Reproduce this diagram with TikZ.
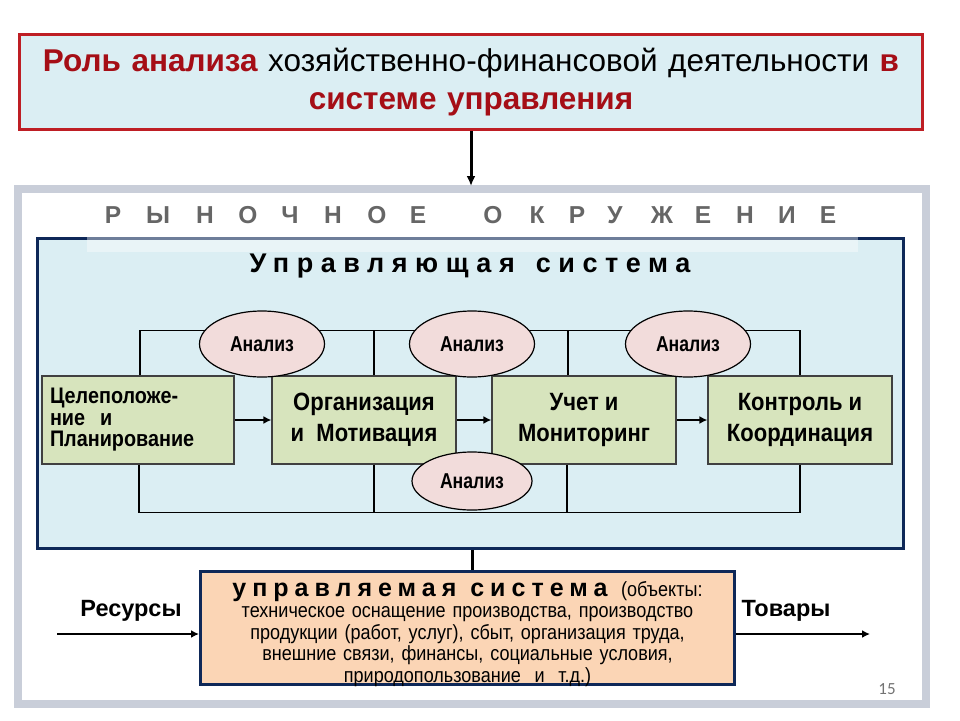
\documentclass[tikz,border=0pt]{standalone}
\usepackage{fontspec}
\setmainfont{Liberation Sans}
\newfontfamily\narrowfont[FakeStretch=0.88]{Liberation Sans}
\newfontfamily\slimfont[FakeStretch=0.82]{Liberation Sans}
\newfontfamily\pagefont{Carlito}
\usetikzlibrary{positioning,arrows.meta,shapes.geometric}
\definecolor{titlered}{RGB}{190,30,36}
\definecolor{textred}{RGB}{165,14,22}
\definecolor{paleblue}{RGB}{219,238,243}
\definecolor{framegray}{RGB}{201,206,217}
\definecolor{mgmtnavy}{RGB}{14,40,88}
\definecolor{stepgreen}{RGB}{215,228,189}
\definecolor{pinkfill}{RGB}{242,220,219}
\definecolor{peach}{RGB}{251,213,181}
\begin{document}
\begin{tikzpicture}[x=1pt,y=-1pt,
    stepbox/.style={draw=black!75,line width=1.2pt,fill=stepgreen,minimum width=184,
      minimum height=88,inner sep=0pt,align=center,
      font={\narrowfont\bfseries\fontsize{25}{31}\selectfont}},
    anbubble/.style={ellipse,draw,line width=1.2pt,fill=pinkfill,minimum width=125,
      minimum height=66,inner sep=0pt,font={\slimfont\bfseries\fontsize{21.5}{22}\selectfont}},
    envletter/.style={inner sep=0pt,font={\bfseries\fontsize{24.5}{26}\selectfont}},
    link/.style={line width=1.2pt},
    flow/.style={line width=2.6pt,-{Latex[length=8pt,width=8pt]}},
    sidelabel/.style={inner sep=0pt,font={\bfseries\fontsize{23.5}{25}\selectfont}}]
  \useasboundingbox (0,0) rectangle (960,720);
  % outer frame
  \draw[line width=8pt,framegray] (18,189) rectangle (926,704);
  % title
  \node[draw=titlered,line width=3pt,fill=paleblue,minimum width=903,minimum height=95,
    text width=890,align=center,font={\fontsize{31.5}{38}\selectfont}] (title) at (471,82)
    {\textcolor{textred}{\bfseries Роль анализа} хозяйственно-финансовой деятельности
     \textcolor{textred}{\bfseries в}\\ \textcolor{textred}{\bfseries системе управления}};
  \coordinate (envtop) at (471,186);
  \draw[line width=3pt,-{Latex[length=10pt,width=9pt]}] (title.south) -- (envtop);
  \foreach \x/\ltr in {113/Р,158/Ы,205/Н,248/О,290/Ч,333/Н,377/О,418/Е,
      493/О,537/К,577/Р,615/У,662/Ж,703/Е,745/Н,787/И,828/Е} {
    \node[envletter] (env\x) at (\x,215.5) {\ltr};
  }
  % managing system
  \node[draw=mgmtnavy,line width=3.5pt,fill=paleblue,minimum width=866,minimum height=310]
    (ms) at (470.5,393.5) {};
  \fill[white,opacity=0.4] (87,193) rectangle (858,252);
  \node[inner sep=0pt,font={\bfseries\fontsize{27}{28}\selectfont\addfontfeature{LetterSpace=28}}]
    (mstitle) at (470,266) {Управляющая\hspace{6pt} система};
  \node[stepbox,minimum width=192,align=left,text width=176,
    font={\narrowfont\bfseries\fontsize{22.5}{21.5}\selectfont}] (b1) at (138,420)
    {Целеположе-\\ние\ \ и\\Планирование};
  \node[stepbox] (b2) at (364,420) {Организация\\и\ \ Мотивация};
  \node[stepbox] (b3) at (584,420) {Учет и\\Мониторинг};
  \node[stepbox] (b4) at (800,420) {Контроль и\\Координация};
  \draw[flow] (b1) -- (b2);
  \draw[flow] (b2) -- (b3);
  \draw[flow] (b3) -- (b4);
  % feedback lines
  \draw[link] ([xshift=2pt]b1.north) |- ([yshift=45pt]b4.north) -- (b4.north);
  \draw[link] ([xshift=10pt]b2.north) -- ++(0,-45);
  \draw[link] ([xshift=-16pt]b3.north) -- ++(0,-45);
  \draw[link] ([xshift=1pt]b1.south) |- ([yshift=-48pt]b4.south) -- (b4.south);
  \draw[link] ([xshift=10pt]b2.south) -- ++(0,48);
  \draw[link] ([xshift=-17pt]b3.south) -- ++(0,48);
  \node[anbubble] (an1) at (262,344) {Анализ};
  \node[anbubble] (an2) at (472,344) {Анализ};
  \node[anbubble] (an3) at (688,344) {Анализ};
  \node[anbubble,minimum width=120,minimum height=58] (an4) at (472,481) {Анализ};
  % managed system
  \node[draw=mgmtnavy,line width=3pt,fill=peach,minimum width=534,minimum height=113]
    (cs) at (467.5,628) {};
  \draw[line width=3pt] (ms.south -| 472,0) -- (cs.north -| 472,0);
  \node[anchor=north,inner sep=0pt,text width=530,align=center,
    font={\narrowfont\fontsize{20.5}{21.5}\selectfont}] (cstext) at ([yshift=-11pt]cs.north)
    {{\normalfont\bfseries\fontsize{25}{22}\selectfont\addfontfeature{LetterSpace=24}управляемая\hspace{14pt}система}\ \ (объекты:\\
     техническое оснащение производства, производство\\
     продукции (работ, услуг), сбыт, организация труда,\\
     внешние связи, финансы, социальные условия,\\
     природопользование\ \ и\ \ т.д.)};
  \coordinate (resin) at (57,634);
  \coordinate (goodsout) at (870,634);
  \draw[flow,line width=2.2pt] (resin) -- (resin -| cs.west);
  \draw[flow,line width=2.2pt] (goodsout -| cs.east) -- (goodsout);
  \node[sidelabel] (res) at (131,611) {Ресурсы};
  \node[sidelabel] (goods) at (786,611) {Товары};
  \node[inner sep=0pt,text=black!55,font={\pagefont\fontsize{17}{19}\selectfont}] (pagenum) at (887,689) {15};
\end{tikzpicture}
\end{document}
